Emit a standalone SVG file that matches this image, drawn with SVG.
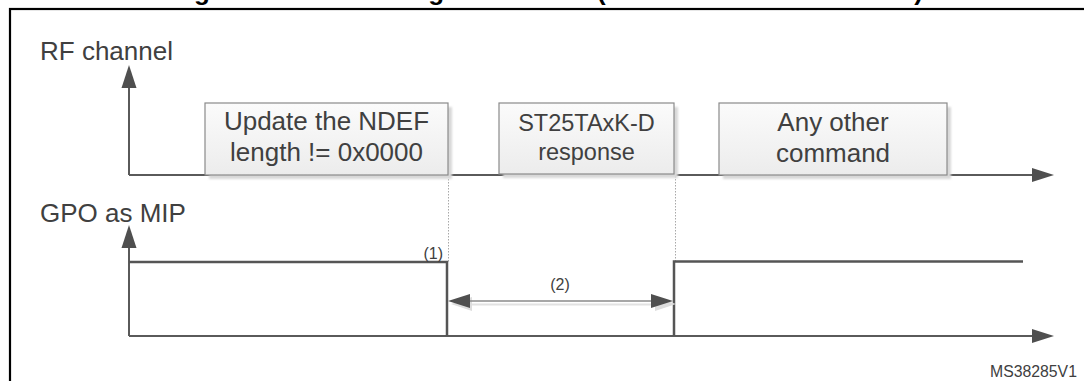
<svg xmlns="http://www.w3.org/2000/svg" width="1084" height="381" viewBox="0 0 1084 381">
  <defs>
    <linearGradient id="boxfill" x1="0" y1="0" x2="0" y2="1">
      <stop offset="0" stop-color="#fbfbfb"/>
      <stop offset="1" stop-color="#ececec"/>
    </linearGradient>
    <filter id="blur" x="-10%" y="-10%" width="120%" height="130%">
      <feGaussianBlur stdDeviation="1.2"/>
    </filter>
  </defs>
  <style>
    .lbl { font-family: "Liberation Sans", Arial, sans-serif; fill: #404040; }
    .big { font-size: 26px; }
    .mid { font-size: 23.5px; }
    .small { font-size: 16px; }
    .box { fill: url(#boxfill); stroke: #8a8a8a; stroke-width: 1.2; }
    .shadow { fill: #d8d8d8; filter: url(#blur); }
    .axis { stroke: #5a5a5a; stroke-width: 2; fill: none; }
    .sig { stroke: #555555; stroke-width: 2.5; fill: none; }
    .head { fill: #4f4f4f; }
    .dot { stroke: #a8a8a8; stroke-width: 1; stroke-dasharray: 1.5 1.5; fill: none; }
    .title { font-family: "Liberation Sans", Arial, sans-serif; font-weight: bold; font-size: 26px; fill: #000; }
  </style>

  <rect x="0" y="0" width="1084" height="381" fill="#ffffff"/>

  <!-- title (clipped at top) -->
  <text class="title" x="171" y="-0.5">Figure 16. GPO configured as MIP <tspan x="597" textLength="326" lengthAdjust="spacing">(GPO field = 0xX3)</tspan></text>

  <!-- frame -->
  <rect x="10" y="9" width="1100" height="400" fill="none" stroke="#000" stroke-width="2.2"/>

  <!-- axis labels -->
  <text class="lbl big" x="40" y="60">RF channel</text>
  <text class="lbl big" x="40" y="222">GPO as MIP</text>

  <g id="connectors">
    <!-- RF channel axes -->
    <line class="axis" x1="129" y1="175" x2="129" y2="86"/>
    <polygon class="head" points="129,65 121.5,88 136.5,88"/>
    <line class="axis" x1="129" y1="175" x2="1034" y2="175"/>
    <polygon class="head" points="1054,175 1032,168 1032,182"/>

    <!-- dotted guides -->
    <line class="dot" x1="448.5" y1="176" x2="448.5" y2="262"/>
    <line class="dot" x1="675.5" y1="176" x2="675.5" y2="262"/>

    <!-- GPO axes -->
    <line class="axis" x1="129" y1="336" x2="129" y2="246"/>
    <polygon class="head" points="129,225 121.5,248 136.5,248"/>
    <line class="axis" x1="129" y1="336" x2="1034" y2="336"/>
    <polygon class="head" points="1054,336 1032,329 1032,343"/>

    <!-- GPO signal -->
    <polyline class="sig" points="129,262 447,262 447,336"/>
    <polyline class="sig" points="674,336 674,261.5 1023,261.5"/>

    <!-- (2) double arrow shadow -->
    <g fill="#dddddd" stroke="#e2e2e2">
      <line x1="470" y1="304.5" x2="653" y2="304.5" stroke-width="2"/>
      <polygon stroke="none" points="451,304 472,297 472,311"/>
      <polygon stroke="none" points="676,304 655,297 655,311"/>
    </g>
    <!-- (2) double arrow -->
    <line x1="468" y1="301" x2="653" y2="301" stroke="#8a8a8a" stroke-width="1.5"/>
    <polygon class="head" points="448,301 470,294 470,308"/>
    <polygon class="head" points="673,301 651,294 651,308"/>
  </g>

  <g id="node-update">
    <rect class="shadow" x="209" y="107" width="243" height="72"/>
    <rect class="box" x="205" y="103" width="243" height="72"/>
    <text class="lbl big" x="326.5" y="130" text-anchor="middle">Update the NDEF</text>
    <text class="lbl big" x="326.5" y="161" text-anchor="middle">length != 0x0000</text>
  </g>

  <g id="node-response">
    <rect class="shadow" x="503" y="107" width="175" height="71"/>
    <rect class="box" x="499" y="103" width="175" height="71"/>
    <text class="lbl mid" x="586.5" y="131" text-anchor="middle">ST25TAxK-D</text>
    <text class="lbl mid" x="586.5" y="160" text-anchor="middle">response</text>
  </g>

  <g id="node-other">
    <rect class="shadow" x="723" y="107" width="228" height="72"/>
    <rect class="box" x="719" y="103" width="228" height="72"/>
    <text class="lbl big" x="833" y="131" text-anchor="middle">Any other</text>
    <text class="lbl big" x="833" y="162" text-anchor="middle">command</text>
  </g>

  <!-- small labels -->
  <text class="lbl small" x="443" y="259" text-anchor="end">(1)</text>
  <text class="lbl small" x="560" y="290" text-anchor="middle">(2)</text>
  <text class="lbl" x="990" y="377" font-size="15.8">MS38285V1</text>
</svg>
